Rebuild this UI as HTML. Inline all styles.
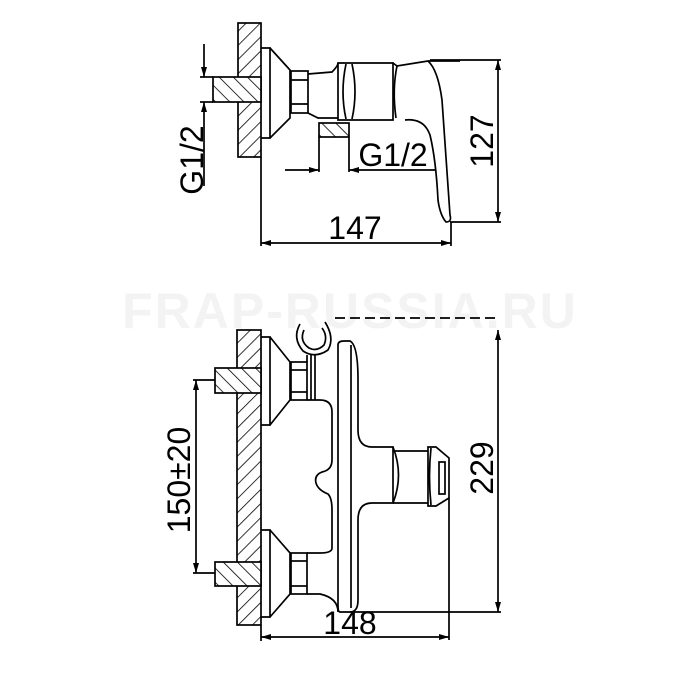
<!DOCTYPE html>
<html><head><meta charset="utf-8"><style>
html,body{margin:0;padding:0;background:#fff;}
svg{display:block;}
text{font-family:"Liberation Sans",sans-serif;fill:#000;}
</style></head><body>
<svg width="700" height="700" viewBox="0 0 700 700" xmlns="http://www.w3.org/2000/svg">
<defs>
<pattern id="h" patternUnits="userSpaceOnUse" width="10" height="10" patternTransform="rotate(45)">
<rect width="10" height="10" fill="#fff"/><line x1="0" y1="0" x2="0" y2="10" stroke="#000" stroke-width="1.6"/>
</pattern>
<pattern id="h2" patternUnits="userSpaceOnUse" width="10" height="10" patternTransform="rotate(-45)">
<rect width="10" height="10" fill="#fff"/><line x1="0" y1="0" x2="0" y2="10" stroke="#000" stroke-width="1.6"/>
</pattern>
<marker id="a" viewBox="0 0 10 6" refX="10" refY="3" markerWidth="12" markerHeight="6" orient="auto-start-reverse" markerUnits="userSpaceOnUse"><path d="M0,0 L10,3 L0,6z" fill="#000"/></marker>
</defs>
<text x="350" y="328" font-size="50" font-weight="bold" text-anchor="middle" style="fill:#f3f3f3" letter-spacing="2">FRAP-RUSSIA.RU</text>
<g fill="none" stroke="#000" stroke-width="1.7">
<!-- TOP VIEW -->
<rect x="238" y="23" width="23" height="134" fill="url(#h)"/>
<rect x="213" y="77" width="48" height="25" fill="url(#h2)"/>
<path d="M261,48 H270 V138 H261" />
<path d="M270,48 L290,70 V118 L270,138"/>
<rect x="291" y="71" width="17" height="42"/>
<line x1="291" y1="80" x2="308" y2="80"/><line x1="291" y1="104" x2="308" y2="104"/>
<path d="M308,74 L332,72 Q338,66 338,63 M308,113 L318,118 H338"/>
<path d="M338,63 H393 V120 H338 Z"/>
<path d="M346,64 Q340,92 346,119 M352,64 Q358,92 352,119"/>
<path d="M393,63 L397,66 L428,61 H460"/>
<path d="M397,66 Q392,90 396,118"/>
<path d="M428,61 Q438,70 442,100 Q446,160 450,215 Q452,222 446,222 Q440,215 438,200 Q436,160 430,135 Q424,118 405,120"/>
<rect x="319" y="123" width="30" height="14" fill="url(#h2)"/>
<line x1="319" y1="137" x2="319" y2="172"/><line x1="349" y1="137" x2="349" y2="172"/>
<line x1="285" y1="170" x2="319" y2="170" marker-end="url(#a)"/>
<line x1="349" y1="170" x2="370" y2="170" marker-start="url(#a)"/>
<line x1="370" y1="170" x2="435" y2="170"/>
<line x1="204" y1="44" x2="204" y2="77" marker-end="url(#a)"/>
<line x1="204" y1="102" x2="204" y2="186" marker-start="url(#a)"/>
<line x1="200" y1="77" x2="213" y2="77"/><line x1="200" y1="102" x2="213" y2="102"/>
<line x1="430" y1="60" x2="501" y2="60"/><line x1="450" y1="222" x2="501" y2="222"/>
<line x1="498" y1="60" x2="498" y2="222" marker-start="url(#a)" marker-end="url(#a)"/>
<line x1="261" y1="157" x2="261" y2="246"/><line x1="451" y1="222" x2="451" y2="246"/>
<line x1="261" y1="243" x2="451" y2="243" marker-start="url(#a)" marker-end="url(#a)"/>
<!-- BOTTOM VIEW -->
<rect x="237" y="330" width="24" height="295" fill="url(#h)"/>
<rect x="215" y="368" width="46" height="25" fill="url(#h2)"/>
<rect x="215" y="562" width="46" height="24" fill="url(#h2)"/>
<path d="M261,337 H270 V425 H261 M270,337 L290,362 V400 L270,425"/>
<path d="M261,530 H270 V617 H261 M270,530 L290,553 V594 L270,617"/>
<rect x="291" y="362" width="16" height="38"/><line x1="291" y1="370" x2="307" y2="370"/><line x1="291" y1="392" x2="307" y2="392"/>
<rect x="291" y="553" width="16" height="41"/><line x1="291" y1="561" x2="307" y2="561"/><line x1="291" y1="586" x2="307" y2="586"/>
<path d="M307,362 V355 M311,355 V400 M315,355 V400"/>
<path d="M300,324 Q292,338 303,351 Q315,359 328,350 Q335,338 325,322 M304,330 Q299,341 309,348 Q317,352 324,345 Q328,336 322,328"/>
<path d="M307,400 H320 Q332,400 332,412 V460 Q332,470 322,472 Q314,475 316,483 Q318,490 328,494 Q332,498 332,510 V548 Q332,553 320,553 H307"/>
<path d="M307,594 H320 Q338,598 338,612"/>
<path d="M338,345 Q338,341 344,341 H350 Q358,345 358,380 V430 Q358,447 372,447 H393 V503 H372 Q358,503 358,520 V600 Q358,612 350,612 H340 Q338,612 338,605 Z"/>
<line x1="351" y1="345" x2="351" y2="608"/>
<path d="M393,447 Q404,475 393,503"/>
<path d="M393,451 H428 V503 H393 M428,447 L436,447 L449,458 V498 L436,506 H428 Z M431,448 Q428,476 431,505"/>
<rect x="439" y="462" width="6" height="32"/>
<line x1="449" y1="498" x2="449" y2="640"/>
<line x1="335" y1="318" x2="500" y2="318" stroke-dasharray="10,5"/>
<line x1="350" y1="612" x2="501" y2="612"/>
<line x1="498" y1="330" x2="498" y2="612" marker-start="url(#a)" marker-end="url(#a)"/>
<line x1="193" y1="380" x2="215" y2="380"/><line x1="193" y1="573" x2="215" y2="573"/>
<line x1="196" y1="380" x2="196" y2="573" marker-start="url(#a)" marker-end="url(#a)"/>
<line x1="261" y1="625" x2="261" y2="641"/>
<line x1="261" y1="637" x2="449" y2="637" marker-start="url(#a)" marker-end="url(#a)"/>
</g>
<text x="355" y="239" font-size="32" text-anchor="middle">147</text>
<text x="393" y="166" font-size="32" text-anchor="middle">G1/2</text>
<text font-size="32" text-anchor="middle" transform="translate(203,160) rotate(-90)">G1/2</text>
<text font-size="32" text-anchor="middle" transform="translate(493,141) rotate(-90)">127</text>
<text font-size="32" text-anchor="middle" transform="translate(493,468) rotate(-90)">229</text>
<text font-size="32" text-anchor="middle" transform="translate(190,480) rotate(-90)">150±20</text>
<text x="350" y="634" font-size="32" text-anchor="middle">148</text>
</svg>
</body></html>
